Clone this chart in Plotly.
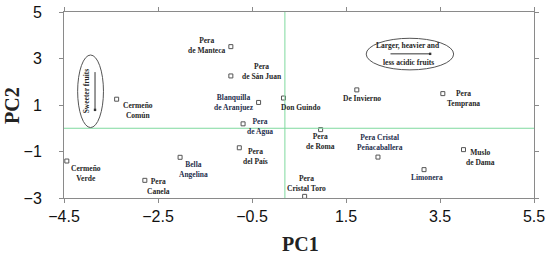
import plotly.graph_objects as go

# PCA scores
cultivars = [
    "Cermeño<br>Común", "Pera<br>de Manteca", "Pera<br>de Sán Juan",
    "Blanquilla<br>de Aranjuez", "Pera<br>de Agua", "Don Guindo",
    "De Invierno", "Pera<br>Temprana", "Cermeño<br>Verde", "Pera<br>Canela",
    "Bella<br>Angelina", "Pera<br>del País", "Pera<br>de Roma",
    "Pera Cristal<br>Peñacaballera", "Limonera", "Muslo<br>de Dama",
    "Pera<br>Cristal Toro",
]
pc1 = [-3.38, -0.95, -0.95, -0.36, -0.69, 0.17, 1.73, 3.56, -4.44, -2.78,
       -2.03, -0.77, 0.96, 2.18, 3.16, 4.00, 0.62]
pc2 = [1.25, 3.51, 2.25, 1.11, 0.19, 1.30, 1.65, 1.49, -1.41, -2.24,
       -1.25, -0.84, -0.06, -1.24, -1.78, -0.92, -2.93]

x_ticks = [-4.5, -2.5, -0.5, 1.5, 3.5, 5.5]
y_ticks = [-3, -1, 1, 3, 5]

# label offsets in pixels (dx, dy) relative to each point
label_offsets = [
    (21, -11), (-24, 1), (31, 4), (-25, 0), (17, -3), (18, -9),
    (5, -9), (21, -5), (19, -12), (14, -6), (13, -12), (16, -9),
    (0, -12), (2, 15), (3, -8), (17, -8), (2, 13),
]
blue_labels = {"Blanquilla<br>de Aranjuez", "Pera<br>de Agua", "Bella<br>Angelina",
               "Pera Cristal<br>Peñacaballera", "Limonera"}

SERIF = "Liberation Serif"
AXIS_GRAY = "#8a8a8a"
GREEN = "#7fd99f"

fig = go.Figure()

fig.add_trace(go.Scatter(
    x=pc1, y=pc2, mode="markers",
    marker=dict(symbol="square-open", size=4, color="#555555", line=dict(width=1)),
    hoverinfo="skip", showlegend=False,
))

for name, x, y, (dx, dy) in zip(cultivars, pc1, pc2, label_offsets):
    fig.add_annotation(
        x=x, y=y, text="<b>" + name + "</b>", showarrow=False,
        xshift=dx, yshift=dy, align="center",
        font=dict(family=SERIF, size=7.5,
                  color="#1f2f4d" if name in blue_labels else "#262626"),
    )

# reference lines
fig.add_hline(y=0, line_color=GREEN, line_width=1)
fig.add_vline(x=0.2, line_color=GREEN, line_width=1)

# "Sweeter fruits" ellipse (left)
fig.add_shape(type="circle", x0=-4.21, x1=-3.66, y0=0.03, y1=3.15,
              line=dict(color="#555555", width=1))
fig.add_annotation(x=-4.03, y=1.59, text="<b>Sweeter fruits</b>", textangle=-90,
                   showarrow=False, font=dict(family=SERIF, size=7.5, color="#262626"))
fig.add_annotation(x=-3.84, y=0.79, ax=-3.84, ay=2.48, axref="x", ayref="y",
                   showarrow=True, arrowhead=7, arrowsize=0.6, arrowwidth=1,
                   arrowcolor="#333333", text="")

# "Larger, heavier..." ellipse (right)
fig.add_shape(type="circle", x0=1.93, x1=3.79, y0=2.51, y1=3.87,
              line=dict(color="#555555", width=1))
fig.add_annotation(x=2.82, y=3.55, text="<b>Larger, heavier and</b>", showarrow=False,
                   font=dict(family=SERIF, size=7.5, color="#262626"))
fig.add_annotation(x=2.82, y=2.84, text="<b>less acidic fruits</b>", showarrow=False,
                   font=dict(family=SERIF, size=7.5, color="#262626"))
fig.add_annotation(x=3.29, y=3.2, ax=2.415, ay=3.2, axref="x", ayref="y",
                   showarrow=True, arrowhead=7, arrowsize=0.6, arrowwidth=1,
                   arrowcolor="#333333", text="")

# axis titles, placed in paper coordinates of the 470x186 plot area
fig.add_annotation(xref="paper", yref="paper", x=(300 - 64) / 470, y=(198 - 244) / 186,
                   xanchor="center", yanchor="middle",
                   text="<b>PC1</b>", showarrow=False,
                   font=dict(family=SERIF, size=20, color="#222222"))
fig.add_annotation(xref="paper", yref="paper", x=(12 - 64) / 470, y=(198 - 106) / 186,
                   xanchor="center", yanchor="middle",
                   text="<b>PC2</b>", showarrow=False, textangle=-90,
                   font=dict(family=SERIF, size=20, color="#222222"))

axis_common = dict(
    showgrid=False, zeroline=False, showline=True, linecolor=AXIS_GRAY, linewidth=1,
    mirror="ticks", ticks="outside", ticklen=4, tickcolor=AXIS_GRAY,
    tickfont=dict(family="Liberation Sans", size=16, color="#111111"),
    automargin=False,
)

fig.update_xaxes(range=[-4.5, 5.5], tickvals=x_ticks, ticklabelstandoff=0, **axis_common)
fig.update_yaxes(range=[-3, 5], tickvals=y_ticks, ticklabelstandoff=14, **axis_common)

fig.update_layout(
    width=550, height=254,
    margin=dict(l=64, r=16, t=12, b=56),
    paper_bgcolor="white", plot_bgcolor="white",
    showlegend=False,
)

# drop the default page margin so the figure sits at the window's corner
fig.write_html("out.html", config={"displayModeBar": False},
               post_script="document.body.style.margin='0';")
